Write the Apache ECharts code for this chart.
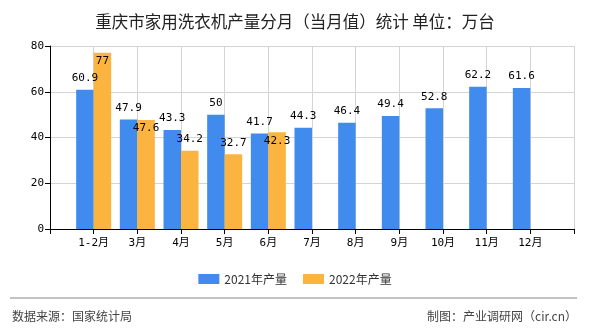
<!DOCTYPE html>
<html><head><meta charset="utf-8">
<script src="https://cdn.jsdelivr.net/npm/echarts@6/dist/echarts.min.js"></script>
<style>html,body{margin:0;padding:0;background:#fff}#c{width:590px;height:330px}</style>
</head><body><div id="c"></div>
<script>
var categories = ['1-2月','3月','4月','5月','6月','7月','8月','9月','10月','11月','12月'];
var output2021 = [60.9, 47.9, 43.3, 50, 41.7, 44.3, 46.4, 49.4, 52.8, 62.2, 61.6];
var output2022 = [77, 47.6, 34.2, 32.7, 42.3, null, null, null, null, null, null];
var yTicks = [0, 20, 40, 60, 80];

var mono = '"DejaVu Sans Mono", "Noto Sans CJK SC", monospace';
var cjk = '"Noto Sans CJK SC", sans-serif';

// padded axis: an empty slot at each end, points on ticks
var axisCats = [''].concat(categories).concat(['']);
var s1 = [null].concat(output2021).concat([null]);
var s2 = [null].concat(output2022.map(function (v, i) {
  if (v == null) return null;
  var clash = Math.abs(v - output2021[i]) < 3 || v > 75;
  return clash ? {value: v, label: {position: 'insideTop', distance: 3}} : v;
})).concat([null]);

var chart = echarts.init(document.getElementById('c'), null, {renderer: 'canvas'});
chart.setOption({
  animation: false,
  backgroundColor: '#fff',
  title: {
    text: '重庆市家用洗衣机产量分月（当月值）统计 单位：万台',
    left: 'center', top: 8,
    textStyle: {fontFamily: cjk, fontSize: 16.5, fontWeight: 'normal', color: '#222'}
  },
  legend: {
    data: ['2021年产量', '2022年产量'],
    left: 'center', top: 268,
    itemWidth: 21, itemHeight: 10, itemGap: 16,
    icon: 'rect',
    textStyle: {fontFamily: cjk, fontSize: 12, color: '#333'}
  },
  grid: {left: 50, right: 16, top: 46, bottom: 101},
  xAxis: {
    type: 'category', data: axisCats, boundaryGap: false,
    axisLine: {lineStyle: {color: '#000'}},
    axisTick: {show: true, length: 5, lineStyle: {color: '#000'}, interval: 0},
    axisLabel: {interval: 0, fontFamily: mono, fontSize: 11, color: '#000', margin: 9},
    splitLine: {show: true, interval: 0, lineStyle: {color: '#d4d4d4'}}
  },
  yAxis: {
    type: 'value', min: yTicks[0], max: yTicks[yTicks.length - 1], interval: 20,
    axisLine: {show: true, lineStyle: {color: '#000'}},
    axisTick: {show: true, length: 5, lineStyle: {color: '#000'}},
    axisLabel: {fontFamily: mono, fontSize: 11, color: '#000', margin: 6},
    splitLine: {show: true, lineStyle: {color: '#d4d4d4'}}
  },
  series: [
    {
      name: '2021年产量', type: 'bar', data: s1, barWidth: 17.5, barGap: '0%',
      itemStyle: {color: '#418bef'},
      label: {show: true, position: 'top', distance: 6, fontFamily: mono, fontSize: 11, color: '#000'}
    },
    {
      name: '2022年产量', type: 'bar', data: s2, barWidth: 17.5, barGap: '0%',
      itemStyle: {color: '#fbb43f'},
      label: {show: true, position: 'top', distance: 6, fontFamily: mono, fontSize: 11, color: '#000'}
    }
  ],
  graphic: [
    {type: 'line', shape: {x1: 10, y1: 298, x2: 577, y2: 298}, style: {stroke: '#888', lineWidth: 1.2}},
    {type: 'text', left: 12, top: 310, style: {text: '数据来源：国家统计局', font: '12px ' + cjk, fill: '#444'}},
    {type: 'text', right: 13, top: 310, style: {text: '制图：产业调研网（cir.cn）', font: '12px ' + cjk, fill: '#444'}}
  ]
});
</script>
</body></html>
